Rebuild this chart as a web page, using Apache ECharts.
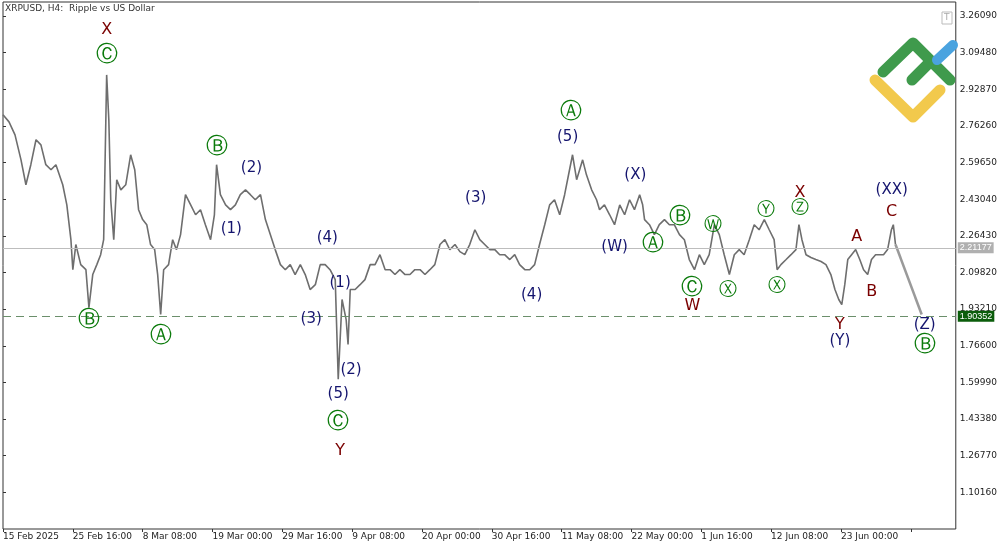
<!DOCTYPE html>
<html>
<head>
<meta charset="utf-8">
<script src="https://cdn.jsdelivr.net/npm/echarts@6/dist/echarts.min.js"></script>
<style>html,body{margin:0;padding:0;background:#fff}#main{width:1000px;height:545px}</style>
</head>
<body>
<div id="main"></div>
<script>
// hours since 15 Feb 2025 00:00, H4 chart
var hours = [0,22,44,66,84,102,121,139,157,176,194,219,234,249,256,267,285,304,315,329,344,358,369,380,388,395,406,417,432,450,468,483,497,512,527,541,556,567,578,589,607,622,636,651,669,688,706,724,742,761,775,783,797,816,834,852,870,889,907,925,944,962,980,998,1017,1035,1053,1071,1090,1108,1126,1145,1163,1181,1199,1218,1229,1243,1258,1265,1273,1291,1309,1327,1346,1364,1382,1401,1419,1437,1455,1474,1492,1510,1529,1547,1565,1583,1602,1620,1638,1657,1675,1693,1711,1730,1748,1766,1785,1803,1821,1839,1858,1876,1894,1913,1931,1949,1967,1986,2004,2022,2041,2059,2077,2088,2103,2114,2125,2139,2158,2176,2187,2205,2224,2242,2261,2279,2297,2315,2334,2345,2352,2370,2388,2406,2425,2443,2461,2480,2498,2516,2535,2553,2571,2589,2608,2626,2644,2663,2681,2699,2717,2736,2754,2772,2791,2809,2827,2838,2852,2871,2889,2907,2918,2929,2944,2962,2980,2999,3017,3035,3050,3064,3075,3086,3097,3111,3126,3141,3155,3170,3184,3199,3214,3228,3243,3257,3264,3272];
var prices = [2.813,2.781,2.722,2.609,2.496,2.587,2.700,2.677,2.587,2.564,2.587,2.496,2.405,2.247,2.111,2.225,2.134,2.111,1.939,2.089,2.134,2.179,2.247,2.994,2.790,2.428,2.247,2.519,2.473,2.496,2.632,2.564,2.383,2.338,2.315,2.225,2.202,2.089,1.908,2.111,2.134,2.247,2.202,2.270,2.451,2.405,2.360,2.383,2.315,2.247,2.360,2.587,2.451,2.405,2.383,2.405,2.451,2.473,2.451,2.428,2.451,2.338,2.270,2.202,2.134,2.111,2.134,2.089,2.134,2.089,2.021,2.043,2.134,2.134,2.111,2.066,1.614,1.976,1.885,1.772,2.021,2.021,2.043,2.066,2.134,2.134,2.179,2.111,2.111,2.089,2.111,2.089,2.089,2.111,2.111,2.089,2.111,2.134,2.225,2.247,2.202,2.225,2.193,2.179,2.225,2.292,2.247,2.225,2.202,2.202,2.179,2.179,2.157,2.179,2.134,2.111,2.111,2.134,2.225,2.315,2.405,2.428,2.360,2.451,2.564,2.632,2.519,2.564,2.609,2.541,2.473,2.428,2.383,2.405,2.360,2.315,2.405,2.360,2.428,2.383,2.451,2.405,2.338,2.315,2.270,2.315,2.338,2.315,2.315,2.270,2.247,2.157,2.111,2.179,2.134,2.179,2.315,2.270,2.179,2.089,2.179,2.202,2.179,2.247,2.315,2.292,2.338,2.292,2.247,2.111,2.134,2.157,2.179,2.202,2.315,2.247,2.179,2.166,2.157,2.148,2.134,2.089,2.021,1.976,1.953,2.043,2.157,2.179,2.202,2.157,2.111,2.089,2.157,2.179,2.179,2.179,2.202,2.292,2.315,2.225];
var projHours = [3272, 3368];
var projPrices = [2.225, 1.908];
var tickLabels = ['15 Feb 2025','25 Feb 16:00','8 Mar 08:00','19 Mar 00:00','29 Mar 16:00','9 Apr 08:00','20 Apr 00:00','30 Apr 16:00','11 May 08:00','22 May 00:00','1 Jun 16:00','12 Jun 08:00','23 Jun 00:00'];
var bidPrice = 2.21177;
var levelPrice = 1.90352;

// wave labels: text, hour, price, kind (g = circled green, b = navy, r = dark red)
var waveText  = ['X','Ⓒ','Ⓑ','Ⓐ','Ⓑ','(2)','(1)','(4)','(3)','(1)','(2)','(5)','Ⓒ','Y','(3)','(4)','Ⓐ','(5)','(X)','(W)','Ⓐ','Ⓑ','Ⓒ','W','Ⓦ','Ⓧ','Ⓨ','Ⓧ','X','Ⓩ','A','B','C','(XX)','Y','(Y)','(Z)','Ⓑ'];
var waveHour  = [380,380,315,578,783,911,837,1189,1130,1236,1276,1229,1229,1236,1733,1938,2081,2070,2318,2242,2384,2483,2527,2527,2604,2659,2798,2838,2922,2922,3130,3185,3258,3258,3068,3068,3379,3379];
var wavePrice = [3.197,3.084,1.881,1.808,2.668,2.573,2.297,2.252,1.889,2.048,1.654,1.546,1.419,1.292,2.437,1.994,2.826,2.713,2.541,2.215,2.224,2.347,2.025,1.948,2.310,2.016,2.378,2.034,2.460,2.387,2.261,2.012,2.374,2.473,1.862,1.785,1.862,1.767];
var waveKind  = ['r','g','g','g','g','b','b','b','b','b','b','b','g','r','b','b','g','b','b','b','g','g','g','r','s','s','s','s','r','s','r','r','r','b','r','b','b','g'];

var kindColor = { g: '#0a7a0a', s: '#0a7a0a', b: '#14146e', r: '#7a0000' };
var kindSize = { g: 22, s: 18, b: 15, r: 16 };

var chart = echarts.init(document.getElementById('main'));

var lineData = hours.map(function (h, i) { return [h, prices[i]]; });
var projData = projHours.map(function (h, i) { return [h, projPrices[i]]; });
var waveData = waveText.map(function (t, i) {
    var k = waveKind[i];
    return {
        value: [waveHour[i], wavePrice[i]],
        label: { formatter: t, color: kindColor[k], fontSize: kindSize[k] }
    };
});

var option = {
    animation: false,
    backgroundColor: '#fff',
    grid: { left: 2, right: 43, top: 2, bottom: 16, show: true, borderColor: '#333', borderWidth: 1 },
    xAxis: {
        type: 'value', min: 0, max: 3493, interval: 256,
        axisLine: { show: false },
        axisTick: { show: true, length: 3, lineStyle: { color: '#333' } },
        splitLine: { show: false },
        axisLabel: {
            color: '#222', fontSize: 9, fontFamily: 'DejaVu Sans', align: 'left', margin: 3,
            showMaxLabel: false,
            formatter: function (v) { var i = Math.round(v / 256); return tickLabels[i] || ''; }
        }
    },
    yAxis: {
        type: 'value', position: 'right', min: 0.9355, max: 3.3245, interval: 0.1661,
        axisLine: { show: false },
        axisTick: { show: true, length: 3, lineStyle: { color: '#333' } },
        splitLine: { show: false },
        axisLabel: {
            color: '#222', fontSize: 9, fontFamily: 'DejaVu Sans', margin: 4,
            showMinLabel: false, showMaxLabel: false,
            formatter: function (v) { return v.toFixed(5); }
        }
    },
    graphic: [
        { type: 'text', left: 5, top: 4, style: { text: 'XRPUSD, H4:  Ripple vs US Dollar', font: '9px DejaVu Sans', fill: '#333' } },
        { type: 'rect', shape: { x: 942, y: 12, width: 10, height: 12 }, style: { fill: '#fff', stroke: '#bbb' } },
        { type: 'text', x: 944, y: 13, style: { text: 'T', font: '9px DejaVu Sans', fill: '#aaa' } },
        { type: 'polyline', shape: { points: [[875, 80], [913, 117], [940, 90]] }, style: { stroke: '#f2c94c', lineWidth: 11, lineCap: 'round', lineJoin: 'round', fill: null } },
        { type: 'polyline', shape: { points: [[883, 72], [913, 43], [950, 80]] }, style: { stroke: '#3f9a4c', lineWidth: 11, lineCap: 'round', lineJoin: 'round', fill: null } },
        { type: 'line', shape: { x1: 912, y1: 80, x2: 930, y2: 62 }, style: { stroke: '#3f9a4c', lineWidth: 11, lineCap: 'round' } },
        { type: 'line', shape: { x1: 937, y1: 60, x2: 953, y2: 45 }, style: { stroke: '#4aa3df', lineWidth: 10, lineCap: 'round' } }
    ],
    series: [
        {
            type: 'line', data: lineData, showSymbol: false, symbol: 'none',
            lineStyle: { color: '#6e6e6e', width: 1.6 },
            markLine: {
                silent: true, symbol: 'none',
                data: [
                    { yAxis: bidPrice, lineStyle: { color: '#bdbdbd', type: 'solid', width: 1 },
                      label: { position: 'end', formatter: bidPrice.toFixed(5), color: '#fff', backgroundColor: '#b0b0b0', fontSize: 9, padding: [1, 2], distance: 2 } },
                    { yAxis: levelPrice, lineStyle: { color: '#6b8f6b', type: [8, 5], width: 1 },
                      label: { position: 'end', formatter: levelPrice.toFixed(5), color: '#fff', backgroundColor: '#0b5d0b', fontSize: 9, padding: [1, 2], distance: 2 } }
                ]
            }
        },
        {
            type: 'line', data: projData, showSymbol: false, symbol: 'none',
            lineStyle: { color: '#9a9a9a', width: 2.5 }
        },
        {
            type: 'scatter', data: waveData, symbolSize: 0, z: 5,
            itemStyle: { opacity: 1 },
            label: { show: true, position: 'inside', fontFamily: 'DejaVu Sans', opacity: 1 }
        }
    ]
};
chart.setOption(option);
</script>
</body>
</html>
